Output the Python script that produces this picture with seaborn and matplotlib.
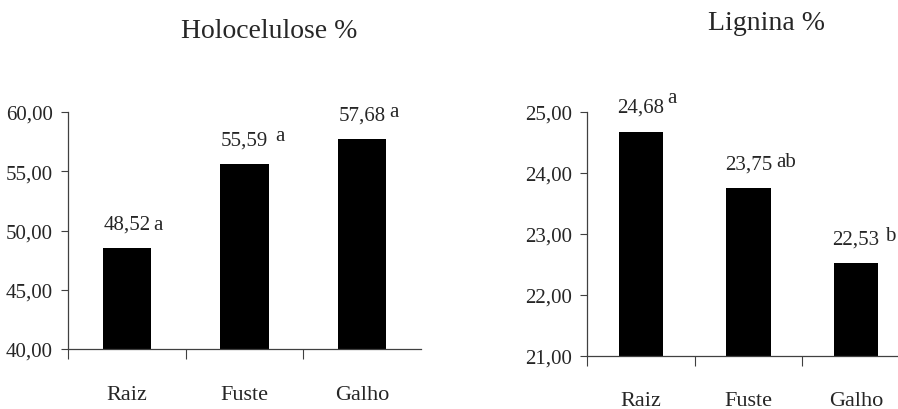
import matplotlib
matplotlib.use("Agg")
import matplotlib.pyplot as plt
import seaborn as sns
import pandas as pd
import numpy as np

categories = ["Raiz", "Fuste", "Galho"]
holo_values = [48.52, 55.59, 57.68]
holo_letters = ["a", "a", "a"]
lig_values = [24.68, 23.75, 22.53]
lig_letters = ["a", "ab", "b"]
holo_yticks = [40, 45, 50, 55, 60]
lig_yticks = [21, 22, 23, 24, 25]

sns.set_theme(style="white")
plt.rcParams["font.family"] = ["Liberation Serif", "DejaVu Serif"]

W, H = 898, 410
fig = plt.figure(figsize=(W / 100, H / 100), dpi=100)

def fmt(v):
    return f"{v:.2f}".replace(".", ",")

def panel(rect, values, letters, yticks, title, title_xy, letter_off, xpad):
    x0, y_top, x1, y_bot = rect
    ax = fig.add_axes([x0 / W, (H - y_bot) / H, (x1 - x0) / W, (y_bot - y_top) / H])
    df = pd.DataFrame({"cat": categories, "val": values})
    sns.barplot(data=df, x="cat", y="val", order=categories, color="black",
                width=0.41, saturation=1, ax=ax, edgecolor="black", linewidth=0)
    ax.set_xlim(-0.5, 2.5)
    ax.set_ylim(yticks[0], yticks[-1])
    ax.set_yticks(yticks)
    ax.set_yticklabels([fmt(t) for t in yticks], fontsize=15)
    ax.set_xticks(range(len(categories)))
    ax.set_xticklabels(categories, fontsize=16)
    ax.set_xticks([-0.5, 0.5, 1.5], minor=True)
    ax.tick_params(axis="x", which="major", length=0, pad=xpad)
    ax.tick_params(axis="x", which="minor", length=7, width=0.8, color="#404040", direction="out", bottom=True)
    ax.tick_params(axis="y", which="major", length=5, width=0.8, color="#404040", direction="out", left=True, pad=6)
    ax.set_xlabel("")
    ax.set_ylabel("")
    for s in ["top", "right"]:
        ax.spines[s].set_visible(False)
    for s in ["left", "bottom"]:
        ax.spines[s].set_color("#404040")
        ax.spines[s].set_linewidth(0.9)
    for i, (v, l) in enumerate(zip(values, letters)):
        ax.annotate(fmt(v), (i, v), xytext=(0, 24), textcoords="offset pixels",
                    ha="center", va="center", fontsize=15)
        dx, dy = letter_off[i]
        ax.annotate(l, (i, v), xytext=(dx, 24 + dy), textcoords="offset pixels",
                    ha="center", va="center", fontsize=15)
    fig.text(title_xy[0] / W, 1 - title_xy[1] / H, title, ha="center", va="center", fontsize=20)
    return ax

panel((68, 113, 421, 350), holo_values, holo_letters, holo_yticks,
      "Holocelulose %", (269, 32), [(31, 0), (35, 5), (32, 4)], 26)
panel((587, 113, 910, 357), lig_values, lig_letters, lig_yticks,
      "Lignina %", (767, 24), [(31, 10), (38, 3), (34, 3)], 25)

fig.savefig("out.png", dpi=100)
